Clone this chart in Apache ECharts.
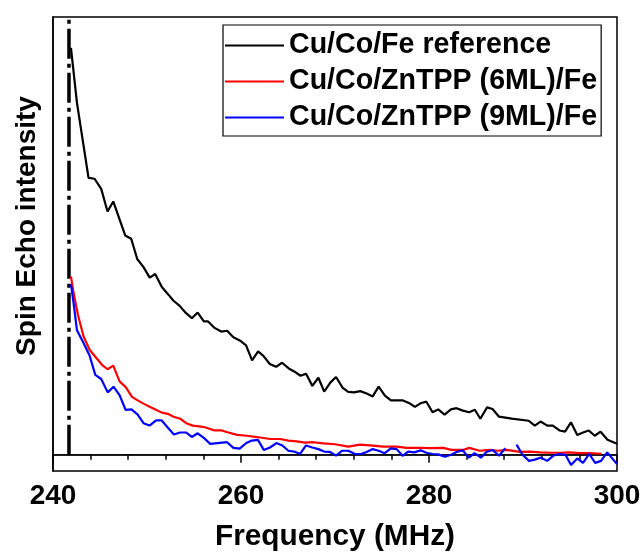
<!DOCTYPE html>
<html>
<head>
<meta charset="utf-8">
<script src="https://cdn.jsdelivr.net/npm/echarts@6/dist/echarts.min.js"></script>
<style>
html,body{margin:0;padding:0;background:#fff;}
#chart{width:643px;height:552px;}
</style>
</head>
<body>
<div id="chart"></div>
<script>
var seriesNames = ['Cu/Co/Fe reference', 'Cu/Co/ZnTPP (6ML)/Fe', 'Cu/Co/ZnTPP (9ML)/Fe'];
var xTicks = [240, 260, 280, 300];
var markerFreq = 241.7;

var refFreq = [241.91,242.55,243.78,244.42,245.13,245.80,246.41,247.68,248.32,248.96,249.63,250.29,250.87,251.58,252.28,252.82,253.45,254.13,254.77,255.39,256.05,256.50,257.19,257.89,258.52,259.19,259.87,260.54,261.18,261.82,262.38,263.06,263.73,264.37,265.08,265.70,266.33,266.92,267.59,268.23,268.85,269.50,270.11,270.82,271.41,272.02,272.69,273.37,274.01,274.64,275.31,275.95,276.56,277.23,277.86,278.50,279.09,279.72,280.38,280.98,281.66,282.33,282.93,283.60,284.27,284.88,285.46,286.18,286.76,287.45,288.80,290.60,291.25,291.87,292.58,293.17,293.88,294.47,295.10,295.77,296.39,296.99,297.63,298.25,298.99,300.00];
var refVal = [100.4,86.8,68.3,68.1,65.6,60.0,62.5,54.1,53.3,48.3,46.3,43.7,44.6,41.4,39.5,38.0,36.8,35.0,33.7,35.1,32.9,32.9,31.3,30.4,30.6,29.0,28.2,27.0,23.3,25.5,24.4,22.4,21.7,22.7,21.3,20.5,19.5,20.0,17.0,19.0,15.6,17.8,19.2,16.5,15.5,15.4,15.7,15.1,14.4,16.8,14.6,13.4,13.4,13.4,12.8,11.8,12.7,13.1,10.5,11.2,9.9,11.2,11.5,10.9,10.5,11.1,8.9,11.7,11.3,9.4,8.9,8.4,7.2,8.2,7.2,7.2,6.0,5.7,8.0,4.9,5.5,6.0,4.7,5.7,3.7,2.7];

var ml6Freq = [241.91,242.19,242.66,243.25,243.89,244.50,245.21,245.80,246.41,247.08,247.74,248.40,249.10,249.73,250.34,250.95,251.58,252.22,252.82,253.53,254.17,254.88,255.55,256.18,257.19,257.96,258.66,259.59,260.62,261.50,262.21,263.09,264.16,265.04,265.93,266.81,267.69,268.76,270.00,271.41,272.66,273.72,275.13,276.56,277.62,279.03,280.10,281.51,282.40,283.63,284.27,285.41,286.47,287.35,288.25,289.66,290.72,291.79,292.85,293.91,294.97,296.04,297.10,298.34];
var ml6Val = [44.0,39.9,34.5,29.2,25.9,24.2,22.2,21.1,22.0,18.1,16.7,14.3,13.3,12.5,11.8,11.1,10.4,10.1,9.4,8.9,7.8,7.2,7.0,6.8,6.0,6.0,5.5,4.9,4.7,4.4,4.2,3.9,3.9,3.5,3.3,3.0,3.1,2.8,2.6,2.0,2.5,2.3,2.0,2.0,1.7,1.7,1.65,1.7,1.2,1.2,1.7,1.0,1.2,1.0,1.2,0.7,0.8,0.6,0.5,0.5,0.6,0.4,0.4,0.25];

var ml9Freq = [241.91,242.19,242.55,243.25,243.89,244.50,245.13,245.82,246.44,247.08,247.72,248.35,249.01,249.63,250.27,250.96,251.54,252.18,252.86,253.50,254.14,254.77,255.39,256.08,256.72,258.52,259.19,259.85,260.57,261.15,261.80,262.42,263.09,263.76,264.40,265.04,265.66,266.28,266.92,267.59,268.23,268.85,269.47,270.11,270.77,271.41,272.13,272.76,273.37,274.01,274.64,275.28,275.95,276.56,277.19,277.79,278.43,279.11,279.72,280.38,280.98,281.69,282.35,282.93,283.57,284.24,284.85,285.52,286.12,286.76,287.45,288.12,288.70,289.31,289.95,290.64,291.25,291.89,292.58,293.20,293.84,294.52,295.11,295.77,296.39,297.04,297.68,298.30,298.96,300.00];
var ml9Val = [42.1,37.4,30.7,27.6,24.5,19.7,18.7,15.4,16.8,14.7,11.1,11.2,9.9,7.8,7.2,8.5,8.5,6.8,5.0,5.5,5.5,4.4,5.3,4.1,2.7,3.1,1.7,1.5,2.9,3.5,3.7,1.2,1.8,2.9,2.3,1.0,0.8,0.2,2.3,1.8,1.4,0.8,0.7,-0.2,1.0,1.0,0.2,0.2,0.7,1.4,1.0,0.4,1.6,1.4,-0.25,0.8,0.6,1.1,0.5,0.2,0.1,-0.5,0.0,0.7,1.1,-0.7,0.4,-0.7,0.7,1.2,-0.25,1.65,'-',2.5,0.0,-1.5,-1.2,-0.7,-1.5,-0.25,0.2,0.0,-2.5,-0.9,-2.0,0.2,-2.0,-1.5,0.6,-2.3];

function pairs(xs, ys) { return xs.map(function (x, i) { return [x, ys[i]]; }); }

var FONT = '"Liberation Sans", Arial, sans-serif';
var chart = echarts.init(document.getElementById('chart'), null, {renderer: 'canvas'});
chart.setOption({
  animation: false,
  backgroundColor: '#fff',
  grid: {left: 53, right: 26, top: 17, bottom: 81, show: true, borderColor: '#000', borderWidth: 1.5,
    containLabel: false, outerBoundsMode: 'none'},
  legend: {
    data: seriesNames,
    orient: 'vertical',
    left: 223, top: 25,
    icon: 'rect',
    itemWidth: 59, itemHeight: 2,
    itemGap: 7,
    padding: [6, 4, 4, 2],
    borderColor: '#000', borderWidth: 1.2,
    backgroundColor: '#fff',
    textStyle: {fontFamily: FONT, fontWeight: 'bold', fontSize: 28.6, color: '#000', lineHeight: 28}
  },
  xAxis: {
    type: 'value', min: 240, max: 300, interval: 20,
    axisLine: {show: true, lineStyle: {color: '#000', width: 1.5}},
    axisTick: {show: true, length: 8, lineStyle: {color: '#000', width: 1.5}},
    minorTick: {show: true, splitNumber: 5, length: 5, lineStyle: {color: '#000', width: 1.5}},
    splitLine: {show: false},
    axisLabel: {fontFamily: FONT, fontWeight: 'bold', fontSize: 28, color: '#000', margin: 11,
      formatter: function (v) { return xTicks.indexOf(v) >= 0 ? String(v) : ''; }},
    name: 'Frequency (MHz)', nameLocation: 'middle', nameGap: 51,
    nameTextStyle: {fontFamily: FONT, fontWeight: 'bold', fontSize: 29.8, color: '#000'}
  },
  yAxis: {
    type: 'value', min: -4, max: 108,
    axisLine: {show: true, lineStyle: {color: '#000', width: 1.5}},
    axisTick: {show: false}, axisLabel: {show: false}, splitLine: {show: false}
  },
  graphic: [{
    type: 'text', x: 27, y: 226, rotation: Math.PI / 2,
    style: {text: 'Spin Echo intensity', font: 'bold 28px ' + FONT, fill: '#000', textAlign: 'center', textVerticalAlign: 'middle'}
  }],
  series: [
    {name: 'baseline', type: 'line', data: [[240, 0], [300, 0]], symbol: 'none', silent: true,
      lineStyle: {color: '#000', width: 1.3}, z: 1},
    {name: 'marker', type: 'line', data: [[markerFreq, 0], [markerFreq, 108]], symbol: 'none', silent: true,
      lineStyle: {color: '#000', width: 3.5, type: [30, 5, 4, 5]}, z: 1},
    {name: seriesNames[0], type: 'line', data: pairs(refFreq, refVal), symbol: 'none', color: '#000',
      lineStyle: {color: '#000', width: 2.2}, z: 3},
    {name: seriesNames[1], type: 'line', data: pairs(ml6Freq, ml6Val), symbol: 'none', color: '#ff0000',
      lineStyle: {color: '#ff0000', width: 2.2}, z: 3},
    {name: seriesNames[2], type: 'line', data: pairs(ml9Freq, ml9Val), symbol: 'none', color: '#0000ff',
      lineStyle: {color: '#0000ff', width: 2.2}, connectNulls: false, z: 4}
  ]
});
</script>
</body>
</html>
